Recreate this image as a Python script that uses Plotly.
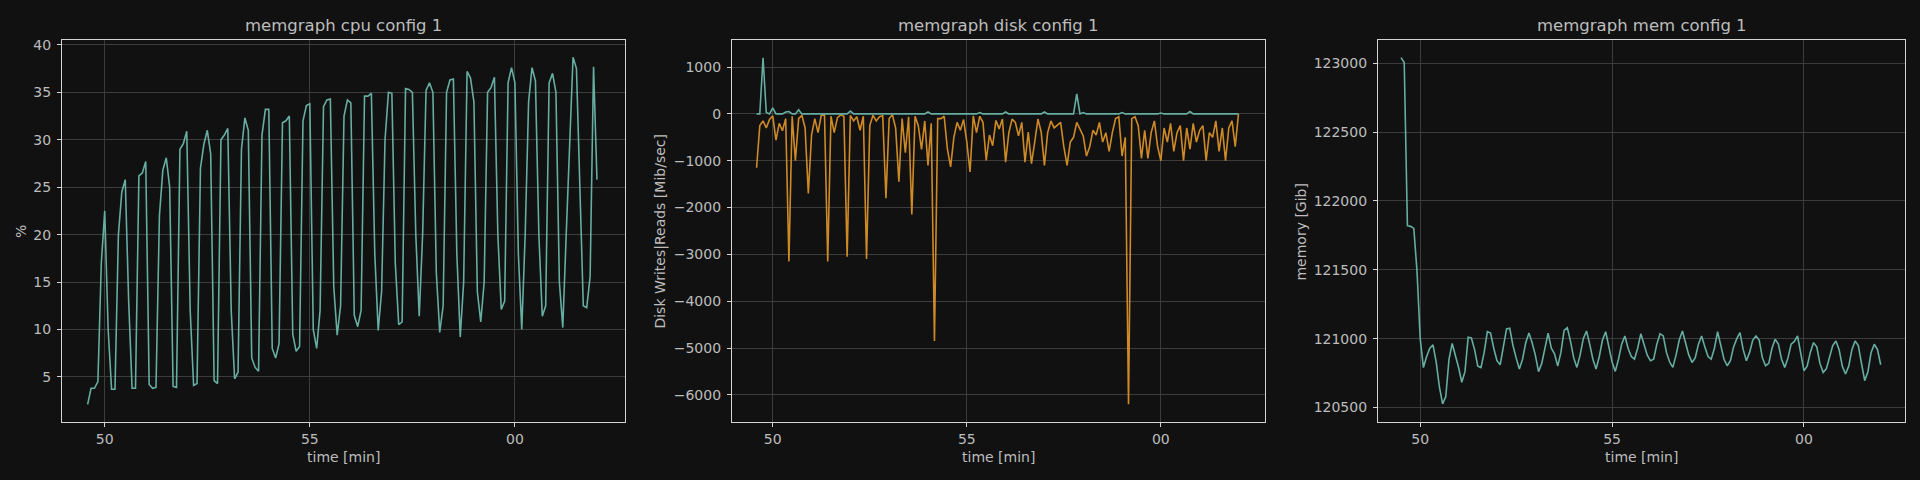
import pandas as pd
import plotly.graph_objects as go

# ---------------- data ----------------
cpu_start = "2024-01-01 10:49:35"
disk_start = "2024-01-01 10:49:35"
mem_start = "2024-01-01 10:49:30"
sample_step = "5s"

cpu_pct = [
    2.1, 3.8, 3.8, 4.5, 17.0, 22.5,
    10.0, 3.7, 3.7, 20.0, 24.5, 25.8,
    13.0, 3.8, 3.8, 26.2, 26.5, 27.7,
    4.2, 3.8, 3.9, 22.0, 26.8, 28.1,
    25.0, 4.0, 3.9, 29.0, 29.6, 30.9,
    12.0, 4.1, 4.3, 27.0, 29.5, 31.0,
    28.5, 4.6, 4.3, 30.0, 30.5, 31.2,
    12.0, 4.8, 5.5, 29.0, 32.3, 31.0,
    7.0, 6.0, 5.6, 30.5, 33.2, 33.2,
    8.0, 7.0, 8.5, 31.8, 32.0, 32.5,
    9.5, 7.7, 8.2, 32.0, 33.6, 33.8,
    10.0, 8.0, 12.0, 33.5, 34.2, 34.3,
    14.5, 9.4, 12.5, 32.5, 34.2, 33.9,
    11.5, 10.3, 12.0, 34.6, 34.6, 34.9,
    18.0, 9.9, 14.0, 30.0, 35.0, 34.9,
    17.0, 10.5, 10.8, 35.4, 35.3, 35.0,
    20.0, 11.4, 20.0, 35.2, 36.0, 35.0,
    16.0, 9.7, 12.5, 35.0, 36.3, 36.4,
    18.0, 9.2, 15.0, 37.2, 36.5, 34.0,
    14.0, 10.8, 15.0, 35.0, 35.5, 36.6,
    20.0, 12.1, 13.0, 36.0, 37.6, 36.0,
    18.0, 10.0, 20.0, 34.0, 37.6, 36.2,
    20.0, 11.4, 12.5, 36.0, 37.0, 35.0,
    15.0, 10.2, 20.0, 30.0, 38.7, 37.5,
    25.0, 12.5, 12.3, 15.6, 37.7, 25.8,
]

disk_writes = [
    -1150, -250, -150, -300, -120, -40, -560, -200, -360, -100,
    -3150, -50, -1000, -100, -30, -300, -1700, -450, -100, -400,
    -30, -20, -3150, -50, -400, -80, -20, -50, -3050, -30,
    -150, -60, -350, -50, -3100, -250, -30, -150, -60, -40,
    -1800, -100, -20, -300, -1450, -100, -830, -60, -2150, -50,
    -250, -760, -150, -1100, -200, -4850, -100, -100, -50, -750,
    -1130, -500, -180, -350, -120, -600, -1240, -40, -400, -50,
    -180, -995, -450, -680, -140, -320, -110, -1030, -400, -110,
    -180, -470, -180, -1030, -390, -1060, -600, -110, -390, -1100,
    -400, -150, -300, -250, -180, -700, -1100, -600, -500, -180,
    -330, -470, -900, -700, -350, -450, -180, -600, -400, -800,
    -400, -100, -60, -900, -500, -6200, -100, -60, -250, -950,
    -350, -950, -400, -150, -700, -1000, -300, -600, -200, -800,
    -400, -250, -1000, -300, -750, -200, -600, -350, -250, -1000,
    -400, -500, -150, -800, -300, -1000, -300, -150, -700, 0,
]

disk_reads = [
    0, 0, 1200, 30, 0, 130, 0, 0, 0, 40,
    50, 0, 0, 90, 0, 0, 0, 0, 0, 0,
    0, 0, 0, 0, 0, 0, 0, 0, 0, 60,
    0, 0, 0, 0, 0, 0, 0, 0, 0, 0,
    0, 0, 0, 0, 0, 0, 0, 0, 0, 0,
    0, 0, 0, 40, 0, 0, 0, 0, 0, 0,
    0, 0, 0, 0, 0, 0, 0, 0, 0, 30,
    0, 0, 0, 0, 0, 0, 0, 40, 0, 0,
    0, 0, 0, 0, 0, 0, 0, 0, 0, 40,
    0, 0, 0, 0, 0, 0, 0, 0, 0, 430,
    0, 30, 0, 0, 0, 0, 0, 0, 0, 0,
    0, 0, 0, 30, 0, 0, 0, 0, 0, 0,
    0, 0, 0, 0, 0, 20, 0, 0, 0, 0,
    0, 0, 0, 0, 50, 0, 0, 0, 0, 0,
    0, 0, 0, 0, 0, 0, 0, 0, 0, 0,
]

mem_gib = [
    123040, 123005, 121820, 121815, 121800, 121490, 121000,
    120790, 120870, 120930, 120955, 120830, 120650, 120526, 120580,
    120850, 120965, 120880, 120790, 120683, 120760, 121010, 121005,
    120920, 120800, 120790, 120900, 121050, 121040, 120930, 120840,
    120810, 120930, 121070, 121075, 120950, 120860, 120780, 120850,
    120970, 121040, 120970, 120880, 120760, 120820, 120940, 121040,
    120930, 120890, 120800, 120900, 121060, 121080, 120980, 120860,
    120791, 120880, 121000, 121055, 120960, 120850,
    120779, 120870, 120990, 121050, 120940, 120830,
    120762, 120850, 120960, 121019, 120930, 120870,
    120851, 120930, 121036, 120950, 120880,
    120839, 120850, 120960, 121036, 121020, 120900, 120830,
    120791, 120880, 120990, 121055, 120960, 120880,
    120827, 120860, 120960, 121019, 120940, 120870,
    120851, 120930, 121050, 120960, 120850,
    120803, 120840, 120940, 121000, 121043, 120920,
    120839, 120900, 120990, 121019, 120990, 120860,
    120803, 120820, 120930, 120995, 120960, 120850,
    120791, 120860, 120960, 120980, 121019, 120880,
    120767, 120800, 120900, 120971, 120940, 120820,
    120755, 120780, 120870, 120950, 120983, 120920, 120800,
    120743, 120800, 120920, 120983, 120950, 120820,
    120695, 120760, 120900, 120959, 120920, 120810,
]

titles = ["memgraph cpu config 1", "memgraph disk config 1", "memgraph mem config 1"]
y_titles = ["%", "Disk Writes|Reads [Mib/sec]", "memory [Gib]"]
x_title = "time [min]"

cpu_t = pd.date_range(cpu_start, periods=len(cpu_pct), freq=sample_step)
disk_t = pd.date_range(disk_start, periods=len(disk_writes), freq=sample_step)
mem_t = pd.date_range(mem_start, periods=len(mem_gib), freq=sample_step)

# ---------------- style ----------------
BG = "#111111"
TXT = "#bdbdbd"
SPINE = "#d4d4d4"
GRID = "#3c3c3c"
TEAL = "#66ada2"
ORANGE = "#cf8a28"
FONT = "DejaVu Sans"
W, H = 1920, 480

fig = go.Figure()
fig.add_trace(go.Scatter(x=cpu_t, y=cpu_pct, mode="lines", line=dict(color=TEAL, width=1.6),
                         xaxis="x", yaxis="y", showlegend=False))
fig.add_trace(go.Scatter(x=disk_t, y=disk_writes, mode="lines", line=dict(color=ORANGE, width=1.6),
                         xaxis="x2", yaxis="y2", showlegend=False))
fig.add_trace(go.Scatter(x=disk_t, y=disk_reads, mode="lines", line=dict(color=TEAL, width=1.6),
                         xaxis="x2", yaxis="y2", showlegend=False))
fig.add_trace(go.Scatter(x=mem_t, y=mem_gib, mode="lines", line=dict(color=TEAL, width=1.6),
                         xaxis="x3", yaxis="y3", showlegend=False))

px_left = [62, 732, 1378]
px_right = [625, 1265, 1905]
top_px, bot_px = 37.5, 422
ydom = [1 - bot_px / H, 1 - top_px / H]

xranges = [
    ["2024-01-01 10:48:57.5", "2024-01-01 11:02:41"],
    ["2024-01-01 10:48:57", "2024-01-01 11:02:41"],
    ["2024-01-01 10:48:54", "2024-01-01 11:02:38"],
]
yranges = [[0.21, 40.49], [-6588, 1573], [120392, 123166]]
ydticks = [5, 1000, 500]

common = dict(showline=True, linecolor=SPINE, linewidth=1.2, mirror=True,
              ticks="outside", ticklen=4, tickwidth=1, tickcolor=SPINE,
              showgrid=True, gridcolor=GRID, gridwidth=0.8, zeroline=False,
              tickfont=dict(family=FONT, size=14, color=TXT))

layout = dict(width=W, height=H, paper_bgcolor=BG, plot_bgcolor=BG,
              margin=dict(l=0, r=0, t=0, b=0), showlegend=False,
              font=dict(family=FONT, color=TXT))
for i in range(3):
    xs = "xaxis" if i == 0 else f"xaxis{i+1}"
    ys = "yaxis" if i == 0 else f"yaxis{i+1}"
    layout[xs] = dict(common, type="date", domain=[px_left[i] / W, px_right[i] / W],
                      range=xranges[i], tickformat="%M", dtick=300000,
                      tick0="2024-01-01 10:50:00", anchor=f"y{'' if i == 0 else i+1}")
    layout[ys] = dict(common, domain=ydom, range=yranges[i], dtick=ydticks[i], tick0=0,
                      anchor=f"x{'' if i == 0 else i+1}", ticklabelstandoff=3,
                      tickformat="d")
fig.update_layout(**layout)

ann = []
ytitle_x = [20.5, 661, 1301]
for i in range(3):
    cx = (px_left[i] + px_right[i]) / 2
    ann.append(dict(text=titles[i], x=cx / W, y=1 - 23 / H, xref="paper", yref="paper",
                    showarrow=False, xanchor="center", yanchor="middle",
                    font=dict(family=FONT, size=16.5, color=TXT)))
    ann.append(dict(text=x_title, x=cx / W, y=1 - 456.5 / H, xref="paper", yref="paper",
                    showarrow=False, xanchor="center", yanchor="middle",
                    font=dict(family=FONT, size=14, color=TXT)))
    ann.append(dict(text=y_titles[i], x=ytitle_x[i] / W, y=1 - 230 / H, xref="paper", yref="paper",
                    showarrow=False, xanchor="center", yanchor="middle", textangle=-90,
                    font=dict(family=FONT, size=14, color=TXT)))
fig.update_layout(annotations=ann)

fig.write_html("out.html", config={"displayModeBar": False},
               post_script="document.body.style.margin='0';document.body.style.background='#111111';")
